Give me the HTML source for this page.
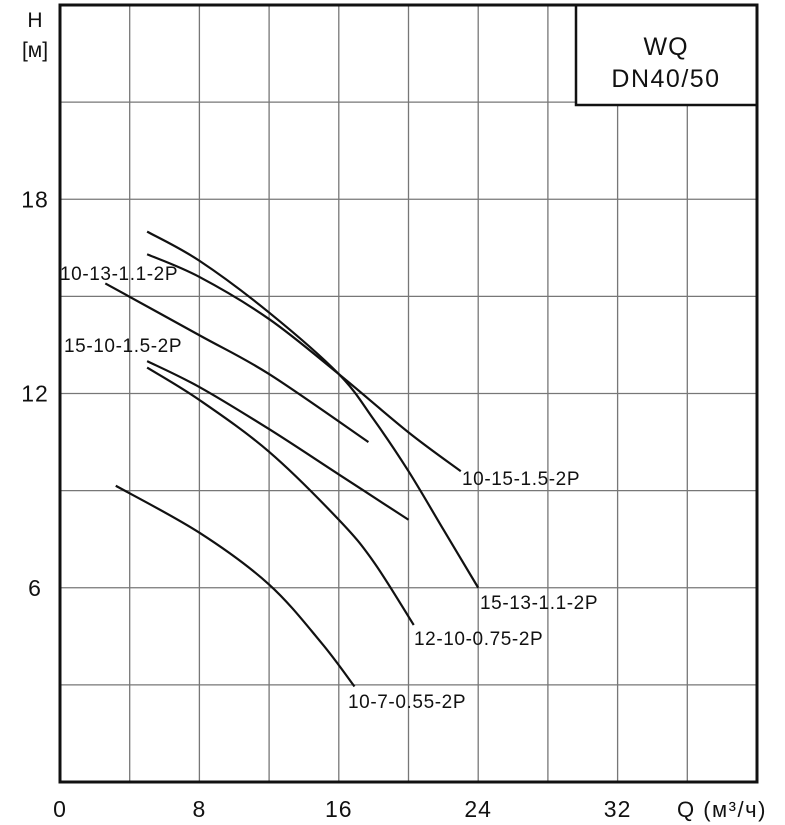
<!DOCTYPE html>
<html><head><meta charset="utf-8"><style>
body{margin:0;background:#fff}
svg{display:block;font-family:"Liberation Sans",Arial,sans-serif}
</style></head><body>
<svg id="chart" width="785" height="825" viewBox="0 0 785 825"></svg>
<script>
const xTicks=[0,8,16,24,32];
const yTicks=[6,12,18];
const seriesNames=["10-15-1.5-2P","15-13-1.1-2P","10-13-1.1-2P","15-10-1.5-2P","12-10-0.75-2P","10-7-0.55-2P"];
const q1=[5,8,12,16,20,23];      const h1=[16.3,15.6,14.3,12.6,10.8,9.6];
const q2=[5,8,12,16,18,20,22,24]; const h2=[17,16.1,14.5,12.6,11.2,9.6,7.8,6];
const q3=[2.6,8,12,17.7];        const h3=[15.4,13.8,12.6,10.5];
const q4=[5,8,12,16,20];         const h4=[13,12.2,10.9,9.5,8.1];
const q5=[5,8,12,16,18,20.3];    const h5=[12.8,11.8,10.2,8.1,6.8,4.85];
const q6=[3.2,8,12,15,16.9];     const h6=[9.15,7.7,6.1,4.3,2.95];
const labelText=["10-15-1.5-2P","15-13-1.1-2P","10-13-1.1-2P","15-10-1.5-2P","12-10-0.75-2P","10-7-0.55-2P"];

const L=60,R=757,T=5,B=782;
const X=q=>L+(q/40)*(R-L);
const Y=h=>B-(h/24)*(B-T);
const NS="http://www.w3.org/2000/svg";
const svg=document.getElementById('chart');
function mk(tag,attrs,text){const e=document.createElementNS(NS,tag);for(const k in attrs)e.setAttribute(k,attrs[k]);if(text!==undefined)e.textContent=text;svg.appendChild(e);return e;}

for(let q=4;q<40;q+=4){const l=mk('line',{x1:X(q),x2:X(q),y1:T,y2:B,stroke:'#777','stroke-width':1.3});

}
for(let h=3;h<24;h+=3){const l=mk('line',{x1:L,x2:R,y1:Y(h),y2:Y(h),stroke:'#777','stroke-width':1.3});

}

const box=mk('rect',{x:576,y:T,width:R-576,height:100,fill:'#fff',stroke:'#111','stroke-width':2.5});


const t1=mk('text',{x:666,y:55,'font-size':25,'text-anchor':'middle',fill:'#111','letter-spacing':1},'WQ');


const t2=mk('text',{x:666,y:87,'font-size':25,'text-anchor':'middle',fill:'#111','letter-spacing':1.5},'DN40/50');



const frame=mk('rect',{x:L,y:T,width:R-L,height:B-T,fill:'none',stroke:'#111','stroke-width':3});



xTicks.forEach(v=>{const t=mk('text',{x:X(v),y:817,'font-size':23,'text-anchor':'middle',fill:'#111','letter-spacing':1},String(v));

});
yTicks.forEach(v=>{const t=mk('text',{x:35,y:Y(v)+8,'font-size':23,'text-anchor':'middle',fill:'#111','letter-spacing':1},String(v));

});
const yt=mk('text',{x:35,y:27,'font-size':21,'text-anchor':'middle',fill:'#111'},'H');


const yu=mk('text',{x:35,y:57,'font-size':21,'text-anchor':'middle',fill:'#111'},'[м]');


const xt=mk('text',{x:677,y:817,'font-size':22,fill:'#111','letter-spacing':1.5},'Q (м³/ч)');



const qs=[q1,q2,q3,q4,q5,q6],hs=[h1,h2,h3,h4,h5,h6];
function path(qa,ha){const p=qa.map((q,i)=>[X(q),Y(ha[i])]);
let d='M'+p[0][0]+','+p[0][1];
for(let i=0;i<p.length-1;i++){const p0=p[i-1]||p[i],p1=p[i],p2=p[i+1],p3=p[i+2]||p2;
d+=` C${p1[0]+(p2[0]-p0[0])/6},${p1[1]+(p2[1]-p0[1])/6} ${p2[0]-(p3[0]-p1[0])/6},${p2[1]-(p3[1]-p1[1])/6} ${p2[0]},${p2[1]}`;}
return d;}
qs.forEach((qa,i)=>{const p=mk('path',{d:path(qa,hs[i]),fill:'none',stroke:'#111','stroke-width':2.2});

});

const lp=[[462,485],[480,609],[60,280],[64,352],[414,645],[348,708]];
labelText.forEach((s,i)=>{const t=mk('text',{x:lp[i][0],y:lp[i][1],'font-size':19,fill:'#111','letter-spacing':0.6},s);

});
</script>
</body></html>
